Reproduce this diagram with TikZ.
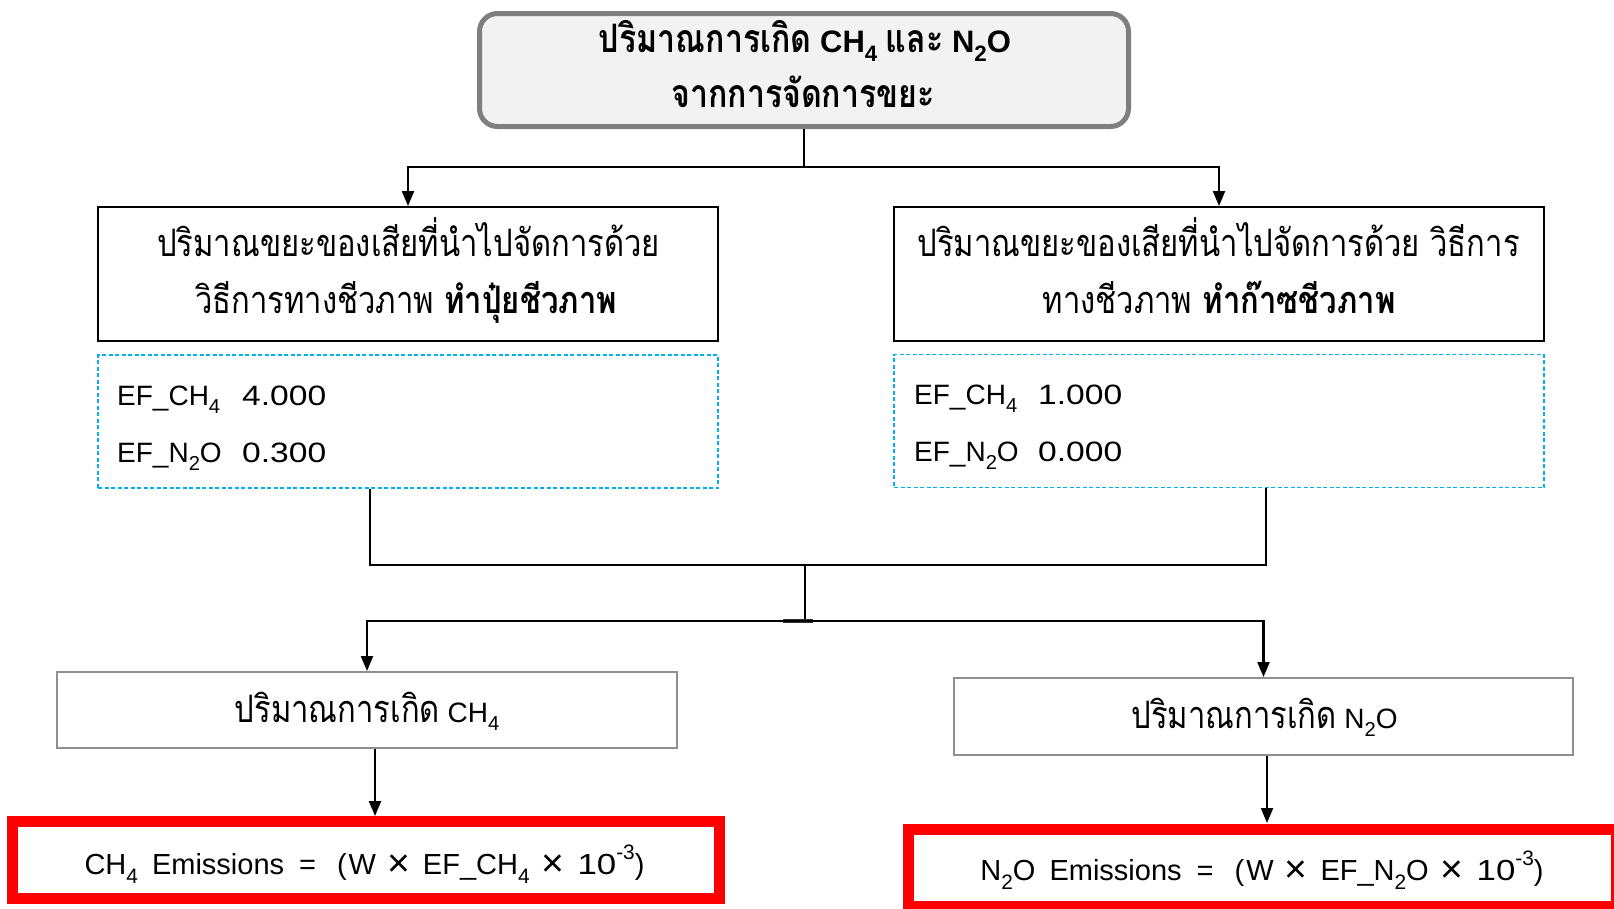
\documentclass[tikz,border=0pt]{standalone}
\usepackage{fontspec}
\setmainfont{Liberation Sans}
\newfontfamily\thaifont[Script=Thai,Scale=1.35,FakeStretch=0.82]{Loma}
\newfontfamily\numfont[FakeStretch=1.2]{Liberation Sans}
\usetikzlibrary{arrows.meta}
\newcommand{\tx}[1]{{\thaifont #1}}
\newcommand{\nm}[1]{{\numfont #1}}
\newcommand{\lsub}[1]{\raisebox{-0.32em}{\scalebox{0.72}{#1}}}
\newcommand{\lsup}[1]{\raisebox{0.5em}{\scalebox{0.72}{#1}}}
\newcommand{\bx}{\raisebox{-2.5pt}{\scalebox{1.35}{×}}}
\newcommand{\tts}[1]{{\fontsize{29}{31}\selectfont\tx{#1}}}
\definecolor{cyanb}{HTML}{00B0F0}
\definecolor{boxgray}{HTML}{7F7F7F}
\definecolor{lightgray2}{HTML}{8F8F8F}
\definecolor{fillg}{HTML}{F2F2F2}
\definecolor{redb}{HTML}{FF0000}
\begin{document}
\begin{tikzpicture}[x=1pt,y=-1pt,
  ln/.style={line width=2.2pt},
  arr/.style={line width=2.2pt,-{Triangle[length=15pt,width=12pt]}},
  box/.style={draw,rectangle,inner sep=0pt},
  topbox/.style={box,draw=boxgray,fill=fillg,line width=5pt,rounded corners=18pt},
  blackbox/.style={box,draw=black,line width=2pt},
  dashbox/.style={box,draw=cyanb,line width=1.8pt,dash pattern=on 4pt off 2.5pt},
  graybox/.style={box,draw=lightgray2,line width=2pt},
  redbox/.style={box,draw=redb,line width=11pt},
  lbl/.style={inner sep=0pt,anchor=base,font=\fontsize{28}{30}\selectfont},
  lblw/.style={inner sep=0pt,anchor=base west,font=\fontsize{28}{30}\selectfont},
  eq/.style={inner sep=0pt,anchor=base,font=\fontsize{29}{31}\selectfont},
  ttl/.style={inner sep=0pt,anchor=base,font=\fontsize{31}{33}\selectfont\bfseries}]
\useasboundingbox (0,0) rectangle (1614,908);
\fill[white] (0,0) rectangle (1614,908);

% boxes
\node[topbox,minimum width=649pt,minimum height=113pt] (top) at (804,70) {};
\node[blackbox,minimum width=620pt,minimum height=134pt] (l1) at (408,274) {};
\node[blackbox,minimum width=650pt,minimum height=134pt] (r1) at (1219,274) {};
\node[dashbox,minimum width=620pt,minimum height=133pt] (dl) at (408,421.5) {};
\node[dashbox,minimum width=650pt,minimum height=133pt] (dr) at (1219,421) {};
\node[graybox,minimum width=620pt,minimum height=76pt] (ch) at (367,710) {};
\node[graybox,minimum width=619pt,minimum height=77pt] (no) at (1263.5,716.5) {};
\node[redbox,minimum width=707pt,minimum height=77.5pt] (rl) at (365.5,860) {};
\node[redbox,minimum width=708pt,minimum height=77pt] (rr) at (1262,867.5) {};

% texts
\node[ttl] (t1) at (805,52) {\tts{ปริมาณการเกิด} CH\lsub{4} \tts{และ} N\lsub{2}O};
\node[ttl] (t2) at (803,107) {\tts{จากการจัดการขยะ}};
\node[lbl] (l1a) at (408.5,256) {\tx{ปริมาณขยะของเสียที่นำไปจัดการด้วย}};
\node[lbl] (l1b) at (406,313) {\tx{วิธีการทางชีวภาพ \textbf{ทำปุ๋ยชีวภาพ}}};
\node[lbl] (r1a) at (1218.5,256) {\tx{ปริมาณขยะของเสียที่นำไปจัดการด้วย วิธีการ}};
\node[lbl] (r1b) at (1219,313) {\tx{ทางชีวภาพ \textbf{ทำก๊าซชีวภาพ}}};

\node[lblw] (ela) at (117,405) {EF\_CH\lsub{4}};
\node[lblw] (elav) at (242,405) {\nm{4.000}};
\node[lblw] (elb) at (117,462) {EF\_N\lsub{2}O};
\node[lblw] (elbv) at (242,462) {\nm{0.300}};
\node[lblw] (era) at (914,404) {EF\_CH\lsub{4}};
\node[lblw] (erav) at (1038,404) {\nm{1.000}};
\node[lblw] (erb) at (914,461) {EF\_N\lsub{2}O};
\node[lblw] (erbv) at (1038,461) {\nm{0.000}};

\node[lbl] (cht) at (367,722) {\tx{ปริมาณการเกิด} CH\lsub{4}};
\node[lbl] (not) at (1264.5,728) {\tx{ปริมาณการเกิด} N\lsub{2}O};

\node[eq] (rlt) at (364.5,874) {CH\lsub{4}\hspace{14pt}Emissions\hspace{15pt}=\hspace{21pt}(\hspace{2pt}W\hspace{11pt}\bx\hspace{13pt}EF\_CH\lsub{4}\hspace{12pt}\bx\hspace{13pt}\nm{10}\lsup{-3})};
\node[eq] (rrt) at (1262,880) {N\lsub{2}O\hspace{14pt}Emissions\hspace{15pt}=\hspace{21pt}(\hspace{2pt}W\hspace{11pt}\bx\hspace{13pt}EF\_N\lsub{2}O\hspace{12pt}\bx\hspace{13pt}\nm{10}\lsup{-3})};

% connectors
\coordinate (j1) at (804,167);
\draw[ln] (top.south) -- (j1);
\draw[arr] (j1) -| (l1.north);
\draw[arr] (j1) -| (r1.north);

\coordinate (bl) at (370,565);
\coordinate (br) at (1266,565);
\draw[ln] (dl.south -| bl) -- (bl) -- (br) -- (dr.south -| br);
\coordinate (j2) at (805,565);
\coordinate (j3) at (805,621);
\draw[ln] (j2) -- (j3);
\draw[line width=4pt,black!80] (783,621) -- (813,621);
\draw[arr] (j3) -| (ch.north);
\draw[arr] (j3) -| (no.north);

\coordinate (a1) at (375,816);
\coordinate (a2) at (1267,823);
\draw[arr] (ch.south -| a1) -- (a1);
\draw[arr] (no.south -| a2) -- (a2);
\end{tikzpicture}
\end{document}
